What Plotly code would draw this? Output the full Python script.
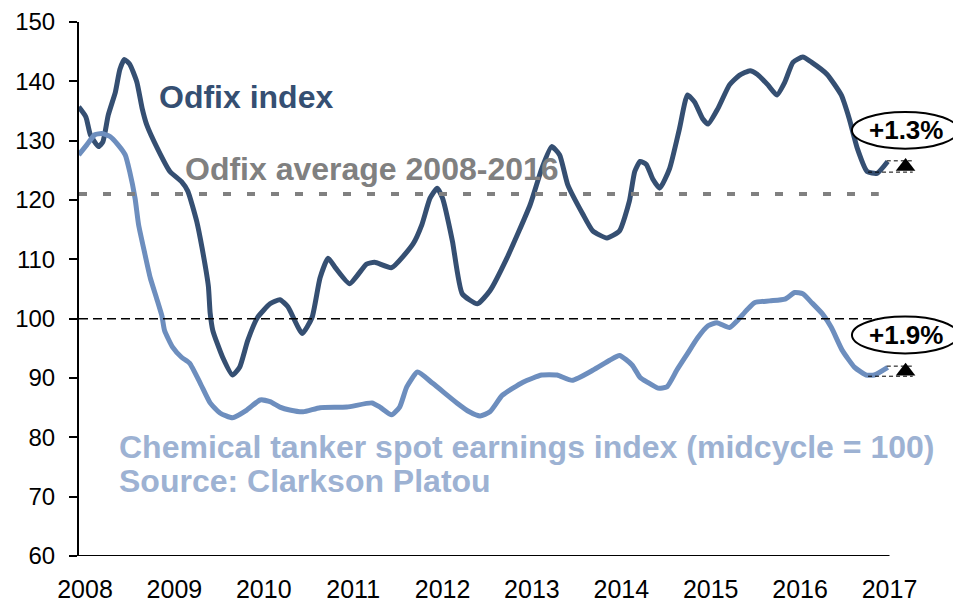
import plotly.graph_objects as go

# Odfix index (time in fractional years)
odfix_x = [2007.93, 2008.01, 2008.06, 2008.15, 2008.20, 2008.26, 2008.34, 2008.39, 2008.44, 2008.50,
           2008.58, 2008.64, 2008.69, 2008.81, 2008.95, 2009.08, 2009.15, 2009.25, 2009.31, 2009.38,
           2009.40, 2009.43, 2009.54, 2009.65, 2009.73, 2009.82, 2009.93, 2010.07, 2010.18, 2010.27,
           2010.43, 2010.54, 2010.63, 2010.72, 2010.80, 2010.96, 2011.15, 2011.24, 2011.43, 2011.67,
           2011.77, 2011.86, 2011.94, 2012.00, 2012.11, 2012.22, 2012.39, 2012.53, 2012.72, 2012.98,
           2013.11, 2013.22, 2013.31, 2013.40, 2013.57, 2013.68, 2013.84, 2013.98, 2014.09, 2014.15,
           2014.21, 2014.28, 2014.35, 2014.43, 2014.54, 2014.65, 2014.74, 2014.82, 2014.91, 2014.97,
           2015.08, 2015.21, 2015.32, 2015.44, 2015.52, 2015.64, 2015.74, 2015.83, 2015.92, 2016.03,
           2016.13, 2016.30, 2016.46, 2016.55, 2016.64, 2016.75, 2016.86, 2016.98]
odfix_y = [135.7, 134.0, 131.0, 129.0, 129.8, 134.3, 138.2, 142.0, 143.7, 142.9,
           139.9, 135.4, 132.7, 128.7, 124.8, 123.1, 121.5, 116.4, 111.9, 105.5,
           101.0, 98.0, 93.5, 90.5, 91.8, 96.3, 100.2, 102.5, 103.2, 102.0,
           97.5, 100.2, 106.9, 110.2, 108.6, 105.9, 109.2, 109.5, 108.6, 112.6,
           115.9, 120.3, 122.0, 120.3, 113.1, 104.2, 102.5, 104.7, 110.2, 119.2,
           125.3, 129.0, 127.6, 122.6, 117.6, 114.8, 113.6, 114.8, 119.8, 124.8,
           126.5, 126.0, 123.6, 122.0, 125.3, 132.0, 137.7, 136.5, 133.7, 132.8,
           135.4, 139.4, 141.0, 141.8, 141.2, 139.4, 137.7, 139.9, 143.2, 144.1,
           143.2, 141.2, 137.7, 133.7, 128.7, 124.8, 124.5, 126.5]

# Chemical tanker spot earnings index
chem_x = [2007.93, 2008.02, 2008.11, 2008.19, 2008.28, 2008.37, 2008.45, 2008.50, 2008.56, 2008.60,
          2008.67, 2008.73, 2008.80, 2008.86, 2008.89, 2008.98, 2009.08, 2009.17, 2009.29, 2009.40,
          2009.51, 2009.65, 2009.81, 2009.96, 2010.07, 2010.18, 2010.29, 2010.44, 2010.63, 2010.93,
          2011.21, 2011.30, 2011.43, 2011.52, 2011.60, 2011.72, 2011.89, 2012.16, 2012.30, 2012.42,
          2012.53, 2012.67, 2012.90, 2013.11, 2013.28, 2013.45, 2013.68, 2013.87, 2013.98, 2014.12,
          2014.21, 2014.29, 2014.41, 2014.51, 2014.62, 2014.74, 2014.85, 2014.97, 2015.07, 2015.21,
          2015.30, 2015.40, 2015.49, 2015.66, 2015.83, 2015.94, 2016.03, 2016.13, 2016.25, 2016.35,
          2016.47, 2016.61, 2016.74, 2016.83, 2016.98]
chem_y = [127.6, 129.3, 131.0, 131.2, 130.7, 129.3, 127.6, 124.8, 120.3, 115.8,
          110.9, 106.9, 103.5, 100.5, 98.0, 95.2, 93.5, 92.5, 89.1, 85.8,
          84.1, 83.3, 84.6, 86.3, 86.0, 85.1, 84.6, 84.3, 85.0, 85.1,
          85.8, 85.1, 83.8, 85.1, 88.5, 91.0, 89.1, 85.8, 84.3, 83.6,
          84.3, 87.1, 89.3, 90.5, 90.5, 89.6, 91.3, 93.0, 93.8, 92.2,
          90.1, 89.3, 88.3, 88.5, 91.3, 94.1, 96.7, 98.8, 99.3, 98.5,
          99.7, 101.4, 102.7, 103.0, 103.3, 104.4, 104.2, 102.7, 100.8, 98.5,
          94.7, 91.8, 90.5, 90.5, 91.8]

odfix_avg = 121.0
midcycle = 100
year_ticks = [2008, 2009, 2010, 2011, 2012, 2013, 2014, 2015, 2016, 2017]
y_ticks = [60, 70, 80, 90, 100, 110, 120, 130, 140, 150]

# recent change callouts: label, low, high
change_labels = ["+1.3%", "+1.9%"]
change_low = [124.7, 90.3]
change_high = [126.6, 92.0]
bubble_center = [131.75, 97.25]

DARK = "#354F72"
LIGHT = "#6D8EBE"
LIGHT_TXT = "#9DB2D3"
GREY = "#808080"
FONT = "Liberation Sans, Arial, sans-serif"

fig = go.Figure()
fig.add_trace(go.Scatter(x=odfix_x, y=odfix_y, mode="lines",
                         line=dict(color=DARK, width=5, shape="spline", smoothing=0.5)))
fig.add_trace(go.Scatter(x=chem_x, y=chem_y, mode="lines",
                         line=dict(color=LIGHT, width=5, shape="spline", smoothing=0.5)))

x_start = 2007.933
x_end = 2017.0

shapes = [
    dict(type="line", x0=x_start, x1=2016.92, y0=midcycle, y1=midcycle,
         line=dict(color="black", width=1.5, dash="9px,5px")),
    dict(type="line", x0=x_start, x1=2016.88, y0=odfix_avg, y1=odfix_avg,
         line=dict(color=GREY, width=4, dash="8px,16px")),
    dict(type="line", x0=x_start, x1=x_end, y0=60, y1=60,
         line=dict(color="black", width=2)),
]
annotations = []
for lab, lo, hi, c in zip(change_labels, change_low, change_high, bubble_center):
    shapes.append(dict(type="line", x0=2016.76, x1=2017.26, y0=lo, y1=lo,
                       line=dict(color="black", width=1, dash="4px,3px")))
    shapes.append(dict(type="line", x0=2016.97, x1=2017.26, y0=hi, y1=hi,
                       line=dict(color="black", width=1, dash="4px,3px")))
    shapes.append(dict(type="circle", x0=2016.58, x1=2017.77, y0=c - 3.1, y1=c + 3.1,
                       line=dict(color="black", width=2), fillcolor="white", layer="above"))
    annotations.append(dict(x=2017.18, y=c, text=lab, showarrow=False,
                            xanchor="center", yanchor="middle",
                            font=dict(family=FONT, size=26, color="black", weight="bold")))
    fig.add_trace(go.Scatter(x=[2017.18], y=[(lo + hi) / 2], mode="markers",
                             marker=dict(symbol="triangle-up", size=17, color="black")))

annotations += [
    dict(x=2008.80, y=137.4, text="Odfix index", showarrow=False, xanchor="left", yanchor="middle",
         font=dict(family=FONT, size=32, color=DARK, weight="bold")),
    dict(x=2009.10, y=125.3, text="Odfix average 2008-2016", showarrow=False, xanchor="left",
         yanchor="middle", font=dict(family=FONT, size=32, color=GREY, weight="bold")),
    dict(x=2008.36, y=78.3, text="Chemical tanker spot earnings index (midcycle = 100)",
         showarrow=False, xanchor="left", yanchor="middle",
         font=dict(family=FONT, size=32, color=LIGHT_TXT, weight="bold")),
    dict(x=2008.36, y=72.7, text="Source: Clarkson Platou", showarrow=False, xanchor="left",
         yanchor="middle", font=dict(family=FONT, size=32, color=LIGHT_TXT, weight="bold")),
]

# page body keeps an 8px margin, so the figure is sized to fit inside it
fig.update_layout(
    width=953, height=595,
    margin=dict(l=71, r=0, t=12, b=46),
    plot_bgcolor="white", paper_bgcolor="white",
    showlegend=False,
    shapes=shapes, annotations=annotations,
    font=dict(family=FONT, color="black"),
)
fig.update_xaxes(range=[x_start, 2017.8], tickvals=year_ticks, ticktext=[str(y) for y in year_ticks],
                 showgrid=False, zeroline=False, showline=False, ticks="",
                 tickfont=dict(size=25, color="black"), ticklabelstandoff=16,
                 ticklabeloverflow="allow")
fig.update_yaxes(range=[60, 150], tickvals=y_ticks, showgrid=False, zeroline=False,
                 showline=True, linecolor="black", linewidth=2,
                 ticks="outside", ticklen=8, tickwidth=2, tickcolor="black",
                 tickfont=dict(size=24, color="black"), ticklabelstandoff=9,
                 ticklabeloverflow="allow")

fig.write_html("out.html")
